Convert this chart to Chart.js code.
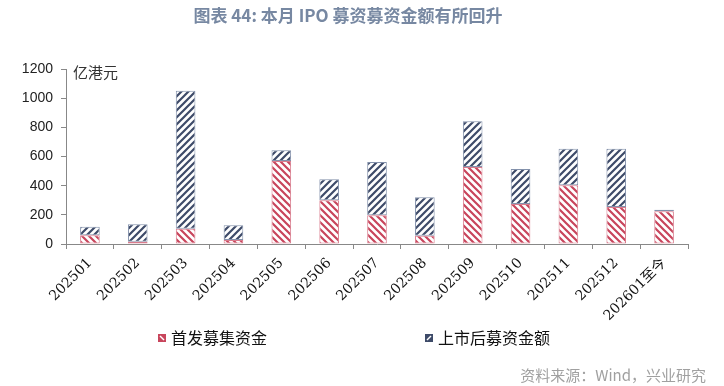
<!DOCTYPE html>
<html><head><meta charset="utf-8">
<script src="https://cdn.jsdelivr.net/npm/chart.js@4/dist/chart.umd.min.js"></script>
<style>html,body{margin:0;padding:0;background:#fff}</style>
</head><body>
<canvas id="c" width="724" height="386"></canvas>
<script>
const titleText = '图表 44: 本月 IPO 募资募资金额有所回升';
const unitText = '亿港元';
const sourceText = '资料来源：Wind，兴业研究';
const categories = ['202501','202502','202503','202504','202505','202506','202507','202508','202509','202510','202511','202512','202601至今'];
const seriesNames = ['首发募集资金','上市后募资金额'];
const ipoFunds      = [60, 15, 105, 28, 569, 300, 197, 57, 528, 274, 403, 254, 224];
const followOnFunds = [59, 120, 946, 100, 74, 144, 365, 263, 313, 240, 251, 400, 11];
const yMin = 0, yMax = 1200, yStep = 200;

const RED = '#c8455c', BLUE = '#3e4b69';

function makePattern(color, dir) {
  const s = 7;
  const cv = document.createElement('canvas');
  cv.width = s; cv.height = s;
  const g = cv.getContext('2d');
  g.fillStyle = '#fff'; g.fillRect(0, 0, s, s);
  g.strokeStyle = color; g.lineWidth = 2.2; g.lineCap = 'square';
  g.beginPath();
  if (dir === '\\') {
    g.moveTo(0, 0); g.lineTo(s, s);
    g.moveTo(-1, s - 1); g.lineTo(1, s + 1);
    g.moveTo(s - 1, -1); g.lineTo(s + 1, 1);
  } else {
    g.moveTo(0, s); g.lineTo(s, 0);
    g.moveTo(-1, 1); g.lineTo(1, -1);
    g.moveTo(s - 1, s + 1); g.lineTo(s + 1, s - 1);
  }
  g.stroke();
  return g.createPattern(cv, 'repeat');
}
const ctx = document.getElementById('c').getContext('2d');
const redPat = makePattern(RED, '\\');
const bluePat = makePattern(BLUE, '/');

const extras = {
  id: 'extras',
  afterDraw(chart) {
    const c = chart.ctx;
    const area = chart.chartArea;
    c.save();
    c.font = 'bold 17px "Noto Sans CJK SC"';
    c.fillStyle = '#7788a2';
    c.textAlign = 'center'; c.textBaseline = 'middle';
    c.fillText(titleText, 348, 16);
    c.font = '15px "Noto Sans CJK SC"';
    c.fillStyle = '#333';
    c.textAlign = 'left';
    c.fillText(unitText, area.left + 7, 72);
    const items = [
      {x: 158, color: RED, dir: '\\', label: seriesNames[0]},
      {x: 425, color: BLUE, dir: '/', label: seriesNames[1]}
    ];
    items.forEach(it => {
      const y = 334;
      c.fillStyle = it.color;
      c.fillRect(it.x, y, 8, 8);
      c.strokeStyle = '#fff'; c.lineWidth = 1.5;
      c.beginPath();
      if (it.dir === '\\') { c.moveTo(it.x + 2, y + 2); c.lineTo(it.x + 6, y + 6); }
      else { c.moveTo(it.x + 2, y + 6); c.lineTo(it.x + 6, y + 2); }
      c.stroke();
      c.font = '16px "Noto Sans CJK SC"';
      c.fillStyle = '#111';
      c.textAlign = 'left'; c.textBaseline = 'middle';
      c.fillText(it.label, it.x + 13, 338);
    });
    c.font = '15px "Noto Sans CJK SC"';
    c.fillStyle = '#a0a0a0';
    c.textAlign = 'right';
    c.fillText(sourceText, 706, 375);
    c.restore();
  }
};

new Chart(ctx, {
  type: 'bar',
  data: {
    labels: categories,
    datasets: [
      {label: seriesNames[0], data: ipoFunds, backgroundColor: redPat, borderColor: '#d97b8c', borderWidth: 1, borderSkipped: false,
       categoryPercentage: 1, barPercentage: 0.41},
      {label: seriesNames[1], data: followOnFunds, backgroundColor: bluePat, borderColor: '#8391ab', borderWidth: 1, borderSkipped: false,
       categoryPercentage: 1, barPercentage: 0.41}
    ]
  },
  options: {
    responsive: false,
    animation: false,
    devicePixelRatio: 1,
    layout: {padding: {top: 69, right: 36, bottom: 62, left: 0}},
    plugins: {legend: {display: false}, title: {display: false}, tooltip: {enabled: false}},
    scales: {
      x: {
        stacked: true,
        grid: {display: true, drawOnChartArea: false, tickLength: 5, color: '#888', offset: true},
        border: {display: true, color: '#888', width: 1},
        ticks: {autoSkip: false, minRotation: 45, maxRotation: 45, padding: 6, color: '#111',
                font: {family: "'DejaVu Serif', 'Noto Sans CJK SC'", size: 14}},
        afterFit(s) { s.height = 80; }
      },
      y: {
        stacked: true,
        min: yMin, max: yMax,
        ticks: {stepSize: yStep, padding: 8, color: '#222', font: {family: '"Liberation Sans"', size: 14},
                callback: v => String(v)},
        grid: {display: true, drawOnChartArea: false, tickLength: 5, color: '#888'},
        border: {display: true, color: '#888', width: 1},
        afterFit(s) { s.width = 66; }
      }
    }
  },
  plugins: [extras]
});
</script>
</body></html>
